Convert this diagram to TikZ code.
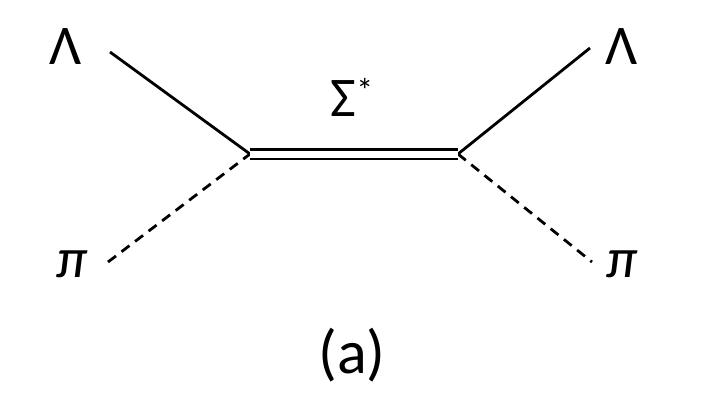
\documentclass[tikz,border=0pt]{standalone}
\usepackage{fontspec}
\setmainfont{Carlito}
\begin{document}
\begin{tikzpicture}[x=1pt,y=-1pt,
  lbl/.style={font=\fontsize{56}{60}\selectfont},
  prop/.style={line width=2.8pt},
  scal/.style={line width=2.8pt,dash pattern=on 10pt off 7pt}]
\useasboundingbox (0,0) rectangle (720,405);
\node[lbl] (L1) at (66,47) {Λ};
\node[lbl] (L2) at (622,47) {Λ};
\node[lbl] (P1) at (72,264) {\textit{π}};
\node[lbl] (P2) at (622,264) {\textit{π}};
\coordinate (v1) at (250,154);
\coordinate (v2) at (458,154);
\coordinate (a1) at (110,52);
\coordinate (a2) at (590,48);
\coordinate (b1) at (108,262);
\coordinate (b2) at (592,262);
\draw[prop] (a1) -- (v1);
\draw[prop] (v2) -- (a2);
\draw[scal] (b1) -- (v1);
\draw[scal] (v2) -- (b2);
\draw[line width=2.8pt,double distance=7pt] (v1) -- (v2);
\node[lbl] (S) at (352,97) {Σ\raisebox{14pt}{\fontsize{34}{36}\selectfont *}};
\node[lbl,font=\fontsize{62}{66}\selectfont] (A) at (352,355) {(a)};
\end{tikzpicture}
\end{document}
